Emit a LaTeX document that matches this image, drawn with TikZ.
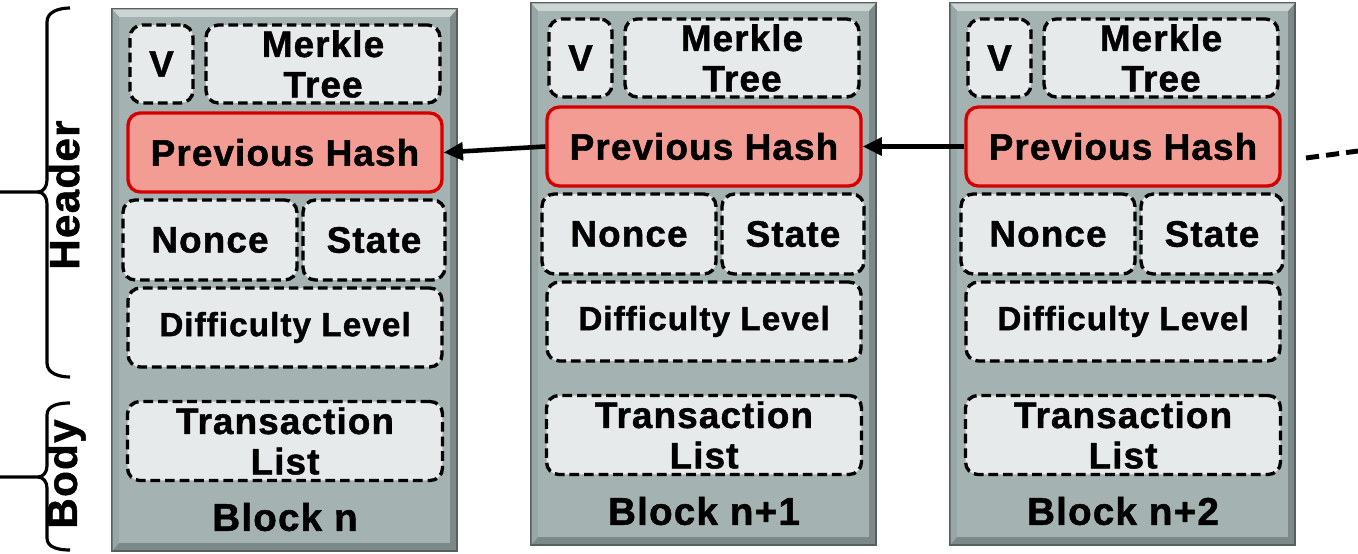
\documentclass[tikz,border=0pt]{standalone}
\usepackage{fontspec}
\setmainfont{Liberation Sans}[BoldFeatures={FakeBold=1.2, LetterSpace=3}]
\usepackage{xcolor}
\usepackage{tikz}
\usetikzlibrary{arrows.meta}
\definecolor{blockfill}{HTML}{A4B2B1}
\definecolor{blocklight}{HTML}{CDD5D4}
\definecolor{blockside}{HTML}{98A6A5}
\definecolor{blockdark}{HTML}{7D8988}
\definecolor{blockedge}{HTML}{55605F}
\definecolor{fieldfill}{HTML}{E6EAEA}
\definecolor{hashfill}{HTML}{F29C94}
\definecolor{hashedge}{HTML}{D40000}
\tikzset{
  field/.style={draw=black, fill=fieldfill, line width=1.9pt, dash pattern=on 5.5pt off 2.8pt,
    rounded corners=7pt, inner sep=0pt, align=center, font=\fontsize{21}{23}\selectfont\bfseries},
  hashfield/.style={field, draw=hashedge, fill=hashfill, solid},
  blocklbl/.style={font=\fontsize{22}{24}\selectfont\bfseries},
  sidelbl/.style={rotate=90, font=\fontsize{24}{26}\selectfont\bfseries},
  braceline/.style={draw=black, line width=1.8pt},
  chainarrow/.style={draw=black, line width=2.6pt, -{Triangle[length=11pt,width=10pt]}},
  chaindash/.style={draw=black, line width=2.8pt, dash pattern=on 7.5pt off 4pt}
}

\begin{document}
\begin{tikzpicture}[x=0.02cm, y=-0.02cm]
  \useasboundingbox (0,0) rectangle (1358,554);

  % the three blocks
  \foreach \i/\dx/\dy/\name in {1/0/0/n, 2/419/-6/n+1, 3/838/-6/n+2}{
    \begin{scope}[shift={(\dx,\dy)}]
      % bevelled block
      \filldraw[draw=blockedge, fill=blockdark, line width=1pt] (112,9) rectangle (457,551);
      \fill[blocklight] (112.5,9.5) -- (456.5,9.5) -- (450,17) -- (119,17) -- cycle;
      \fill[blockside] (112.5,9.5) -- (119,17) -- (119,543) -- (112.5,550.5) -- cycle;
      \fill[blockfill] (119,17) rectangle (450,543);

      % header fields
      \node[field, minimum width=1.26cm, minimum height=1.56cm] (ver\i) at (161.5,64) {V};
      \node[field, minimum width=4.68cm, minimum height=1.56cm] (merkle\i) at (323,64) {Merkle\\Tree};
      \node[hashfield, minimum width=6.28cm, minimum height=1.58cm] (prev\i) at (285,152.5) {Previous Hash};
      \node[field, minimum width=3.48cm, minimum height=1.6cm] (nonce\i) at (210,240) {Nonce};
      \node[field, minimum width=2.84cm, minimum height=1.6cm] (state\i) at (374,240) {State};
      \node[field, minimum width=6.28cm, minimum height=1.58cm, font=\fontsize{19}{21}\selectfont\bfseries]
        (diff\i) at (285,327.5) {Difficulty Level};

      % body
      \node[field, minimum width=6.3cm, minimum height=1.58cm] (trans\i) at (285,441) {Transaction\\List};
      \node[blocklbl] (blk\i) at (285,517) {Block \name};
    \end{scope}
  }

  % hash pointers
  \draw[chainarrow] (prev2.west) -- (prev1.east);
  \draw[chainarrow] (prev3.west) -- (prev2.east);
  \coordinate (dashA) at (1306,158);
  \coordinate (dashB) at (1358,151);
  \draw[chaindash] (dashA) -- (dashB);

  % braces
  \draw[braceline] (70,8) to[out=180,in=90] (47,22) -- (47,180) to[out=-90,in=0] (38,192) -- (0,192);
  \draw[braceline] (38,192) to[out=0,in=90] (47,204) -- (47,363) to[out=-90,in=180] (70,377);
  \draw[braceline] (70,403) to[out=180,in=90] (47,415) -- (47,466) to[out=-90,in=0] (38,477) -- (0,477);
  \draw[braceline] (38,477) to[out=0,in=90] (47,488) -- (47,538) to[out=-90,in=180] (70,550);
  \node[sidelbl] (header) at (64,195) {Header};
  \node[sidelbl] (body) at (66,474) {Body};
\end{tikzpicture}
\end{document}
